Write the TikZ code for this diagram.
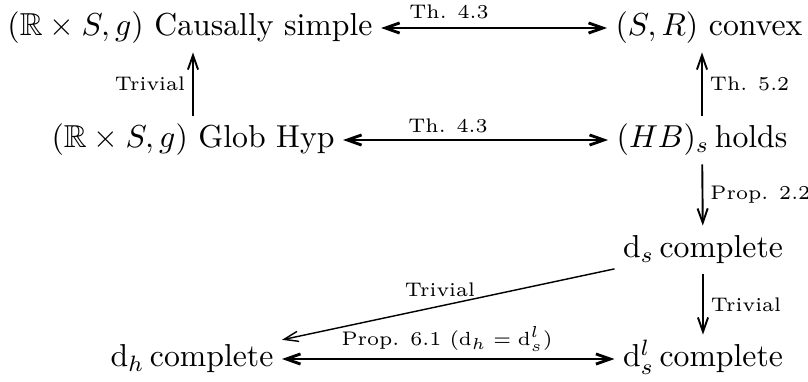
\documentclass[tikz,border=0pt]{standalone}
\usepackage{amssymb}
\usetikzlibrary{arrows.meta}
\begin{document}
\begin{tikzpicture}[x=0.315pt,y=-0.315pt,
  obj/.style={inner sep=2.5pt, text height=7.5pt, text depth=2.5pt, font=\normalsize},
  lbl/.style={inner sep=2.2pt, font=\fontsize{6.2}{7.5}\selectfont},
  arr/.style={line width=0.6pt, -{Straight Barb[length=4.5pt,width=3.2pt]}},
  darr/.style={line width=0.9pt, {Straight Barb[length=4.5pt,width=3.2pt]}-{Straight Barb[length=4.5pt,width=3.2pt]}}]
\useasboundingbox (0,0) rectangle (808,381);
% objects
\node[obj] (A) at (190,28) {$(\mathbb{R}\times S,g)$ Causally simple};
\node[obj] (B) at (709,28) {$(S,R)$ convex};
\node[obj] (C) at (193,140) {$(\mathbb{R}\times S,g)$ Glob Hyp};
\node[obj] (D) at (702,140) {$(HB)_s$\,holds};
\node[obj] (E) at (703,250) {$\mathrm{d}_s$\,complete};
\node[obj] (F) at (192,359) {$\mathrm{d}_h$\,complete};
\node[obj] (G) at (703,359) {$\mathrm{d}^l_s$\,complete};
% labels of horizontal and diagonal arrows
\node[lbl, anchor=base] (l1) at (449,18) {Th. 4.3};
\node[lbl, anchor=base] (l2) at (448,132) {Th. 4.3};
\node[lbl, anchor=base] (l3) at (447,345) {Prop. 6.1 ($\mathrm{d}_h=\mathrm{d}^l_s$)};
\node[lbl, anchor=base] (l4) at (440,296) {Trivial};
% arrows
\draw[darr] (A) -- (B);
\draw[darr] (C) -- (D);
\draw[darr] (F) -- (G);
\draw[arr] (C.north) -- (C.north |- A.south) node[midway, left, lbl] (l5) {Trivial};
\draw[arr] (D.north) -- (D.north |- B.south) node[midway, right, lbl] (l6) {Th. 5.2};
\draw[arr] (D) -- (E) node[midway, right, lbl] (l7) {Prop. 2.2};
\draw[arr] (E) -- (G) node[midway, right, lbl] (l8) {Trivial};
\draw[arr, line width=0.45pt] (E) -- (F);
\end{tikzpicture}
\end{document}
